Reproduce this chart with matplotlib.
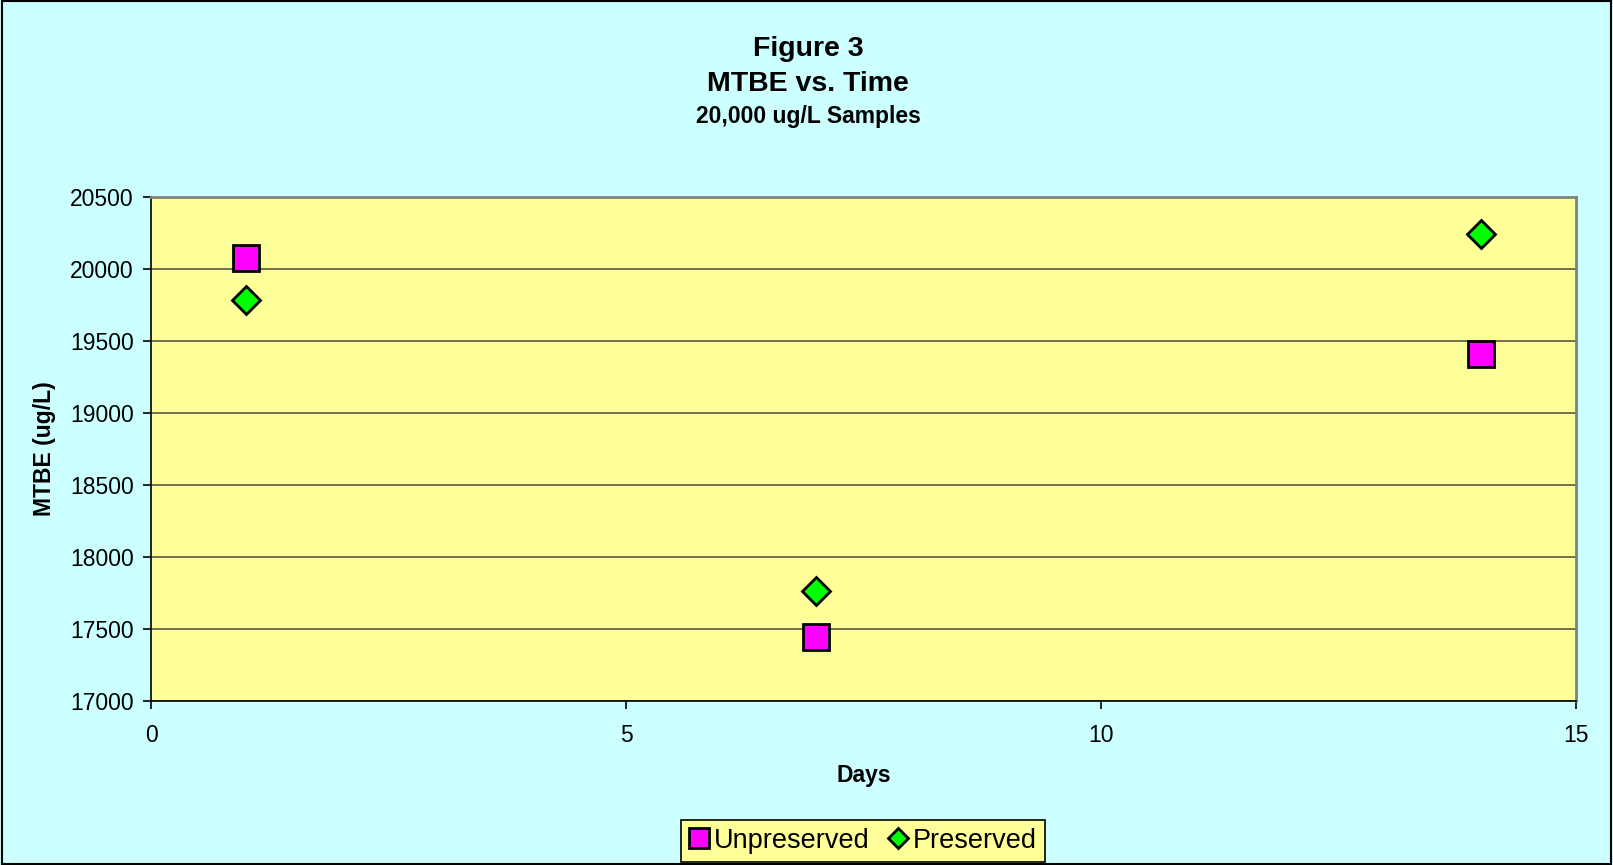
import matplotlib
matplotlib.use("Agg")
import matplotlib.pyplot as plt
from matplotlib.patches import Rectangle

plt.rcParams['font.family'] = ['Liberation Sans', 'DejaVu Sans']

days = [1, 7, 14]
unpreserved = [20070, 17440, 19410]
preserved = [19780, 17760, 20240]
x_ticks = [0, 5, 10, 15]
y_ticks = [17000, 17500, 18000, 18500, 19000, 19500, 20000, 20500]

fig = plt.figure(figsize=(16.13, 8.65), dpi=100, facecolor='#CCFFFF')
ax = fig.add_axes([0.0937, 0.190, 0.977 - 0.0937, 0.7728 - 0.190])
ax.set_facecolor('#FFFF99')

ax.set_xlim(0, 15)
ax.set_ylim(17000, 20500)
ax.set_xticks(x_ticks)
ax.set_yticks(y_ticks)
ax.yaxis.grid(True, color='#5a5a3a', linewidth=1.2)
ax.set_axisbelow(True)

ax.plot(days, unpreserved, linestyle='none', marker='s', markersize=19,
        markerfacecolor='#FF00FF', markeredgecolor='black', markeredgewidth=2,
        label='Unpreserved', zorder=3)
ax.plot(days, preserved, linestyle='none', marker='D', markersize=14,
        markerfacecolor='#00FF00', markeredgecolor='black', markeredgewidth=2,
        label='Preserved', zorder=3)

for side in ['top', 'right']:
    ax.spines[side].set_color('#808080')
    ax.spines[side].set_linewidth(2)
for side in ['left', 'bottom']:
    ax.spines[side].set_color('black')
    ax.spines[side].set_linewidth(1.2)

ax.tick_params(axis='both', direction='out', length=6, width=1.2, labelsize=16.5,
               colors='black')
ax.tick_params(axis='x', pad=11)
ax.tick_params(axis='y', pad=6.5)

ax.set_xlabel('Days', fontsize=16.5, fontweight='bold', labelpad=12)
ax.set_ylabel('MTBE (ug/L)', fontsize=16.5, fontweight='bold', labelpad=10)

fig.text(0.501, 0.943, 'Figure 3', ha='center', va='center', fontsize=20.5, fontweight='bold')
fig.text(0.501, 0.903, 'MTBE vs. Time', ha='center', va='center', fontsize=20.5, fontweight='bold')
fig.text(0.501, 0.865, '20,000 ug/L Samples', ha='center', va='center', fontsize=16.5, fontweight='bold')

leg = fig.legend(loc='center', bbox_to_anchor=(0.535, 0.028), ncol=2, fontsize=19.5,
                 frameon=True, fancybox=False, facecolor='#FFFF99', edgecolor='black',
                 handlelength=0.7, handletextpad=0.2, columnspacing=0.7,
                 borderpad=0.3, markerscale=0.75)
leg.get_frame().set_linewidth(1.2)
leg.get_frame().set_alpha(1)

fig.patches.append(Rectangle((0.001, 0.001), 0.998, 0.998, transform=fig.transFigure,
                             fill=False, edgecolor='black', linewidth=1.5))

fig.savefig('out.png', dpi=100, facecolor=fig.get_facecolor())
